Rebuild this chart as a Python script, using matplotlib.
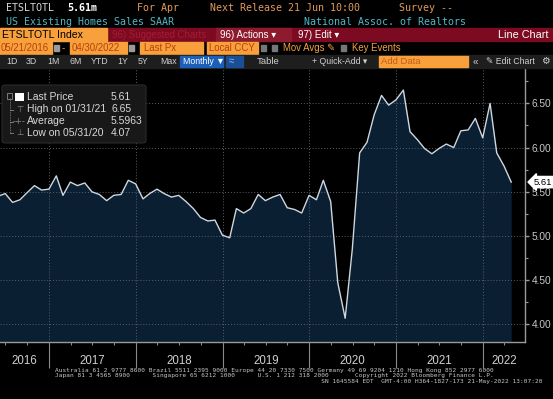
import numpy as np
import pandas as pd
import matplotlib
matplotlib.use("Agg")
import matplotlib.pyplot as plt
import matplotlib.dates as mdates
import matplotlib.transforms as mtransforms
from matplotlib.patches import Rectangle, FancyBboxPatch
from matplotlib.lines import Line2D
from matplotlib.ticker import MultipleLocator

W, H = 553, 399

# US existing home sales, SAAR (millions), month end May 2016 .. Apr 2022
dates = pd.date_range("2016-05-31", periods=72, freq="ME")
sales = [5.45, 5.48, 5.38, 5.41, 5.49, 5.57, 5.52, 5.53,
         5.68, 5.46, 5.61, 5.57, 5.60, 5.50, 5.47, 5.40, 5.46, 5.47, 5.63, 5.59,
         5.42, 5.48, 5.53, 5.48, 5.44, 5.46, 5.39, 5.31, 5.21, 5.17, 5.18, 5.01,
         4.98, 5.31, 5.26, 5.31, 5.47, 5.40, 5.44, 5.47, 5.32, 5.30, 5.26, 5.46,
         5.41, 5.63, 5.39, 4.47, 4.07, 4.85, 5.94, 6.06, 6.37, 6.59, 6.48, 6.54,
         6.65, 6.18, 6.09, 5.99, 5.93, 5.99, 6.04, 6.00, 6.19, 6.20, 6.33, 6.11,
         6.50, 5.94, 5.79, 5.61]
years = ["2016", "2017", "2018", "2019", "2020", "2021", "2022"]
legend_names = ["Last Price", "High on 01/31/21", "Average", "Low on 05/31/20"]
legend_vals = ["5.61", "6.65", "5.5963", "4.07"]
last_label = "5.61"

ORANGE = "#f7a03c"
DARKRED = "#7c0a20"
SANS = ["Liberation Sans", "DejaVu Sans"]
NARROW = ["Liberation Sans Narrow", "Liberation Sans", "DejaVu Sans"]
MONO = ["DejaVu Sans Mono"]

fig = plt.figure(figsize=(W / 100, H / 100), dpi=100, facecolor="black")


def fx(x, y):
    return x / W, 1 - y / H


def box(x0, y0, x1, y1, color, **kw):
    fig.patches.append(Rectangle(fx(x0, y1), (x1 - x0) / W, (y1 - y0) / H,
                                 transform=fig.transFigure, color=color, zorder=0, **kw))


def txt(x, y, s, **kw):
    kw.setdefault("family", SANS)
    kw.setdefault("va", "center")
    fig.text(x / W, 1 - y / H, s, **kw)


# ---- header ----
txt(6, 8, "ETSLTOTL", family=MONO, size=7.2, color="#d8d8d8")
txt(67, 8, "5.61m", family=MONO, size=7.2, color="white", weight="bold")
txt(137, 8, "For Apr", family=MONO, size=7.2, color="#e39a5a")
txt(210, 8, "Next Release 21 Jun 10:00", family=MONO, size=7.2, color="#e39a5a")
txt(399, 8, "Survey --", family=MONO, size=7.2, color="#e39a5a")
txt(6, 22, "US Existing Homes Sales SAAR", family=MONO, size=7.2, color="#4fb8c4")
txt(304, 22, "National Assoc. of Realtors", family=MONO, size=7.2, color="#4fb8c4")

box(0, 28, W, 40.5, DARKRED)
box(0, 28, 107, 40.5, ORANGE)
txt(2, 34.5, "ETSLTOTL Index", size=7.6, color="black")
txt(112, 34.5, "96) Suggested Charts", size=6.9, color="#a51c36")
box(216, 28, 291, 40.5, "#8e1a2e")
txt(220, 34.5, "96) Actions \u25be", size=7.0, color="white")
txt(298, 34.5, "97) Edit \u25be", size=7.0, color="white")
txt(548, 34.5, "Line Chart", size=7.8, color="white", ha="right")

ORTXT = "#b8400c"
box(0, 41.5, 52, 54, ORANGE)
txt(1, 48, "05/21/2016", size=6.9, color=ORTXT)
box(54, 45, 59, 51, "#9a9a9a")
txt(62, 48, "-", size=7, color=ORANGE)
box(70, 41.5, 127, 54, ORANGE)
txt(72, 48, "04/30/2022", size=6.9, color=ORTXT)
box(129, 45, 134, 51, "#9a9a9a")
box(140, 41.5, 203, 54, ORANGE)
txt(144, 48, "Last Px", size=6.9, color=ORTXT)
box(207, 41.5, 258, 54, ORANGE)
txt(209, 48, "Local CCY", size=6.9, color=ORTXT)
box(261, 45, 266, 51, "#777777")
box(272, 45, 277, 51, "#777777")
txt(283, 48, "Mov Avgs \u270e", size=6.9, color=ORANGE)
box(341, 45, 346, 51, "#777777")
txt(352, 48, "Key Events", size=6.9, color=ORANGE)

box(0, 55, W, 68, "#1e1e1e")
for x, s in zip([6, 26, 47, 70, 91, 117, 138, 160],
                ["1D", "3D", "1M", "6M", "YTD", "1Y", "5Y", "Max"]):
    txt(x, 61.5, s, size=6.3, color="#d0d0d0")
box(180, 56, 223, 67, "#1b5fb8")
txt(183, 61.5, "Monthly \u25bc", size=6.3, color="white")
box(226, 56, 243, 67, "#1a4e96")
txt(229, 61.5, "\u2248", size=7, color="#8fb8ff")
txt(257, 61.5, "Table", size=6.8, color="#d0d0d0")
txt(312, 61.5, "+ Quick-Add \u25be", size=6.3, color="#d0d0d0")
box(379, 56, 468, 67, ORANGE)
txt(381, 61.5, "Add Data", size=6.8, color="#c45a1c")
txt(473, 61.5, "\u00ab", size=7, color="#d0d0d0")
txt(486, 61.5, "\u270e Edit Chart", size=6.3, color="#d0d0d0")
txt(541, 61.5, "\u2699", size=7, color="#d0d0d0")

# ---- chart ----
top, bottom, right = 68, 341.7, 525
ax = fig.add_axes([0, 1 - bottom / H, right / W, (bottom - top) / H])
ax.set_facecolor("black")
ax.fill_between(dates, sales, 3.0, color="#0b1f33", lw=0, zorder=1)
ax.plot(dates, sales, color="#cfd7df", lw=1.0, zorder=3)
ax.set_ylim(3.805, 6.90)
ax.set_xlim(pd.Timestamp("2016-06-08"), pd.Timestamp("2022-06-27"))

ax.yaxis.tick_right()
ax.yaxis.set_major_locator(MultipleLocator(0.5))
ax.yaxis.set_minor_locator(MultipleLocator(0.25))
ax.yaxis.set_major_formatter(lambda v, p: f"{v:.2f}")
ax.tick_params(axis="y", which="major", length=3, width=1, color="#9a9a9a",
               labelsize=7.3, labelcolor="#c8c8c8", pad=2)
ax.tick_params(axis="y", which="minor", length=2.5, width=0.8, color="#9a9a9a")
for t in ax.get_yticklabels():
    t.set_family(SANS)

ax.xaxis.set_major_locator(mdates.YearLocator())
ax.xaxis.set_minor_locator(mdates.MonthLocator(bymonth=[1, 4, 7, 10]))
ax.xaxis.set_major_formatter(plt.NullFormatter())
ax.tick_params(axis="x", which="major", length=18.5, width=0.8, color="#8a8a8a")
ax.tick_params(axis="x", which="minor", length=2, width=0.8, color="#8a8a8a")

ax.set_axisbelow(False)
ax.grid(which="major", color="#56616c", lw=0.7, ls=(0, (1, 2)))
for side in ["top", "left"]:
    ax.spines[side].set_visible(False)
for side in ["bottom", "right"]:
    ax.spines[side].set_color("#9a9a9a")
    ax.spines[side].set_linewidth(1.0)

# year labels centred on the visible part of each year
x0, x1 = ax.get_xlim()
for y in years:
    a = max(mdates.date2num(pd.Timestamp(f"{y}-01-01")), x0)
    b = min(mdates.date2num(pd.Timestamp(f"{int(y) + 1}-01-01")), x1)
    ax.annotate(y, xy=((a + b) / 2, 0), xycoords=("data", "axes fraction"),
                xytext=(0, -14), textcoords="offset points", ha="center", va="center",
                family=NARROW, size=8.3, color="#d0d0d0", annotation_clip=False)

# last price tag
tr = mtransforms.blended_transform_factory(ax.transAxes, ax.transData)
ax.text(1.017, float(last_label), last_label, transform=tr, ha="left", va="center",
        family=SANS, size=6.8, color="black", clip_on=False,
        bbox=dict(boxstyle="larrow,pad=0.12", fc="white", ec="white"))

# ---- legend box ----
fig.patches.append(FancyBboxPatch(fx(2, 143), 144 / W, 58 / H, boxstyle="round,pad=0,rounding_size=0.006",
                                  transform=fig.transFigure, fc="#181818", ec="#2a2a2a", lw=0.8, zorder=1))
ly = [96.5, 109.5, 121.5, 133]
for name, val, y in zip(legend_names, legend_vals, ly):
    txt(27, y, name, size=7.5, color="#d8d8d8", zorder=3)
    txt(111, y, val, size=7.5, color="#d8d8d8", zorder=3)
gray = "#8a8a8a"
fig.lines.append(Line2D([9.5 / W, 9.5 / W], [1 - 98 / H, 1 - 133 / H], transform=fig.transFigure,
                        color=gray, lw=0.6, ls=(0, (1, 1)), zorder=3))
for y in ly[1:]:
    fig.lines.append(Line2D([9.5 / W, 13 / W], [1 - y / H, 1 - y / H], transform=fig.transFigure,
                            color=gray, lw=0.6, zorder=3))
fig.patches.append(Rectangle(fx(7, 98.5), 5 / W, 5 / H, transform=fig.transFigure,
                             fc="none", ec=gray, lw=0.6, zorder=3))
fig.patches.append(Rectangle(fx(15, 101), 8.5 / W, 8.5 / H, transform=fig.transFigure,
                             fc="white", ec="white", lw=0, zorder=3))
txt(19.5, 109.5, "\u22a4", size=6, color=gray, ha="center", family=["DejaVu Sans"], zorder=3)
txt(19.5, 121.5, "-+-", size=6, color=gray, ha="center", family=["DejaVu Sans"], zorder=3)
txt(19.5, 133, "\u22a5", size=6, color=gray, ha="center", family=["DejaVu Sans"], zorder=3)

# ---- footer ----
foot = ["Australia 61 2 9777 8600 Brazil 5511 2395 9000 Europe 44 20 7330 7500 Germany 49 69 9204 1210 Hong Kong 852 2977 6000",
        "Japan 81 3 4565 8900      Singapore 65 6212 1000      U.S. 1 212 318 2000       Copyright 2022 Bloomberg Finance L.P.",
        " " * 71 + "SN 1645584 EDT  GMT-4:00 H364-1827-173 21-May-2022 13:07:20"]
for s, y in zip(foot, [370.5, 376, 381.5]):
    txt(55, y, s, family=MONO, size=4.4, color="#c8c8c8")

fig.savefig("out.png", dpi=100, facecolor="black")
